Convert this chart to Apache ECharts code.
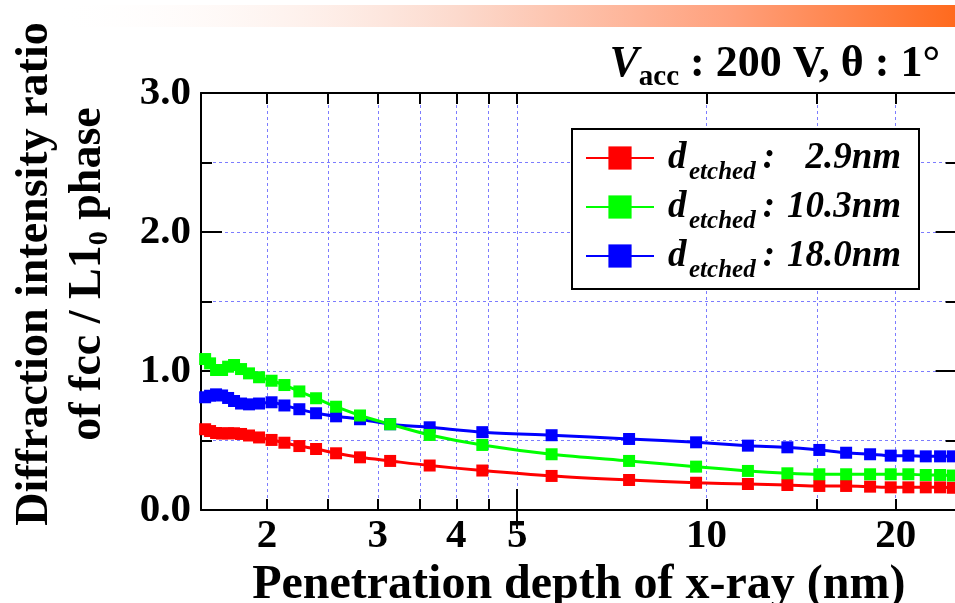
<!DOCTYPE html>
<html>
<head>
<meta charset="utf-8">
<script src="https://cdn.jsdelivr.net/npm/echarts@6/dist/echarts.min.js"></script>
<style>
html, body { margin: 0; padding: 0; background: #fff; }
#chart { width: 955px; height: 603px; }
</style>
</head>
<body>
<div id="chart"></div>
<script>
// Penetration depth of the x-ray (nm), common to the three samples
const depth = [1.594, 1.623, 1.659, 1.696, 1.734, 1.772, 1.818, 1.872, 1.942, 2.033,
  2.131, 2.251, 2.393, 2.575, 2.811, 3.139, 3.628, 4.400, 5.671, 7.532,
  9.627, 11.64, 13.45, 15.12, 16.68, 18.21, 19.64, 20.95, 22.33, 23.53, 24.65];

// Diffraction intensity ratio fcc / L1_0 for each etched depth
const ratio29 = [0.581, 0.568, 0.554, 0.550, 0.552, 0.552, 0.547, 0.536, 0.522, 0.504,
  0.484, 0.460, 0.439, 0.408, 0.379, 0.353, 0.320, 0.284, 0.245, 0.216,
  0.196, 0.187, 0.180, 0.173, 0.173, 0.168, 0.163, 0.163, 0.163, 0.163, 0.160];
const ratio103 = [1.086, 1.055, 1.007, 1.007, 1.031, 1.043, 1.014, 0.983, 0.955, 0.930,
  0.899, 0.853, 0.804, 0.743, 0.680, 0.617, 0.540, 0.468, 0.401, 0.353,
  0.312, 0.281, 0.264, 0.257, 0.257, 0.257, 0.257, 0.257, 0.252, 0.252, 0.248];
const ratio180 = [0.811, 0.822, 0.832, 0.824, 0.806, 0.784, 0.766, 0.760, 0.766, 0.775,
  0.752, 0.725, 0.696, 0.674, 0.653, 0.617, 0.595, 0.560, 0.538, 0.511,
  0.487, 0.463, 0.451, 0.432, 0.412, 0.401, 0.391, 0.391, 0.386, 0.386, 0.386];

const seriesNames = ['2.9nm', '10.3nm', '18.0nm'];
const seriesColors = ['#ff0000', '#00ff00', '#0000ff'];

// Axis ticks and labels
const xTickValues = [2, 2.5, 3, 3.5, 4, 4.5, 5, 10, 15, 20];
const xLabelValues = [2, 3, 4, 5, 10, 20];
const xLongTickValues = [5];
const xRange = [1.57, 25];
const yRange = [0, 3];

const SERIF = '"Liberation Serif", "Times New Roman", serif';
const gridLine = { show: true, lineStyle: { color: '#7c7cff', width: 1, type: [3, 3] } };
const black = { color: '#000', width: 2 };

function xAxisDef(position, opts) {
  return Object.assign({
    type: 'log', logBase: 10, position: position,
    min: xRange[0], max: xRange[1],
    axisLine: { show: true, onZero: false, lineStyle: black },
    axisTick: { show: true, inside: true, length: 11, lineStyle: black, customValues: xTickValues },
    axisLabel: { show: false },
    splitLine: { show: false }
  }, opts);
}

function yAxisDef(position, opts) {
  return Object.assign({
    type: 'value', position: position,
    min: yRange[0], max: yRange[1], interval: 1,
    axisLine: { show: true, onZero: false, lineStyle: black },
    axisTick: { show: true, inside: true, length: 21, lineStyle: black },
    minorTick: { show: true, splitNumber: 2, length: 11, lineStyle: black },
    axisLabel: { show: false },
    splitLine: { show: false },
    minorSplitLine: { show: false }
  }, opts);
}

const chart = echarts.init(document.getElementById('chart'), null, { renderer: 'canvas' });

const data = [ratio29, ratio103, ratio180];
// red first, then blue, with green drawn on top where the curves cross
const series = [0, 2, 1].map(function (k) {
  return {
    name: seriesNames[k],
    type: 'line',
    xAxisIndex: 0,
    yAxisIndex: 0,
    smooth: 0.3,
    symbol: 'rect',
    symbolSize: 12,
    color: seriesColors[k],
    lineStyle: { width: 3, color: seriesColors[k] },
    itemStyle: { color: seriesColors[k] },
    data: depth.map(function (d, i) { return [d, data[k][i]]; })
  };
});

const legendMain = { fontFamily: SERIF, fontSize: 37, fontWeight: 'bold', fontStyle: 'italic', color: '#000', lineHeight: 56 };

chart.setOption({
  animation: false,
  backgroundColor: '#fff',
  textStyle: { fontFamily: SERIF },
  grid: { left: 201, top: 93, width: 755.6, height: 417, containLabel: false, outerBoundsMode: 'none' },
  title: {
    text: '{v|V}{s|acc}{t| : 200 V, θ : 1°}',
    right: 15, top: 48, padding: 0,
    textStyle: {
      rich: {
        v: { fontFamily: SERIF, fontSize: 44, fontWeight: 'bold', fontStyle: 'italic', color: '#000', lineHeight: 33 },
        s: { fontFamily: SERIF, fontSize: 29, fontWeight: 'bold', color: '#000', lineHeight: 2,
             verticalAlign: 'top', padding: [15, 0, 0, 0] },
        t: { fontFamily: SERIF, fontSize: 44, fontWeight: 'bold', color: '#000', lineHeight: 33 }
      }
    }
  },
  legend: {
    orient: 'vertical',
    left: 572, top: 129,
    padding: [1, 18, 6, 13],
    backgroundColor: '#fff',
    borderColor: '#000', borderWidth: 2, borderRadius: 0,
    itemWidth: 68, itemHeight: 29, itemGap: -6,
    data: seriesNames,
    formatter: function (name) {
      return '{d|d}{e|etched}{c|:}{n|' + name + '}';
    },
    textStyle: {
      rich: {
        d: Object.assign({}, legendMain, { width: 21, padding: [0, 0, 0, 9] }),
        e: { fontFamily: SERIF, fontSize: 25, fontWeight: 'bold', fontStyle: 'italic', color: '#000', lineHeight: 8,
             verticalAlign: 'top', padding: [30, 0, 0, 0], width: 70 },
        c: Object.assign({}, legendMain, { width: 20, align: 'center' }),
        n: Object.assign({}, legendMain, { width: 122, align: 'right' })
      }
    }
  },
  xAxis: [
    xAxisDef('bottom', {
      name: 'Penetration depth of x-ray (nm)',
      nameLocation: 'middle', nameGap: 47,
      nameTextStyle: { fontFamily: SERIF, fontSize: 48, fontWeight: 'bold', color: '#000' },
      axisLabel: { show: true, customValues: xLabelValues, margin: 6,
        fontFamily: SERIF, fontSize: 41, fontWeight: 'bold', color: '#000' },
      splitLine: gridLine
    }),
    xAxisDef('top', {}),
    xAxisDef('bottom', { axisLine: { show: false },
      axisTick: { show: true, inside: true, length: 21, lineStyle: black, customValues: xLongTickValues } }),
    xAxisDef('top', { axisLine: { show: false },
      axisTick: { show: true, inside: true, length: 19, lineStyle: black, customValues: xLongTickValues } })
  ],
  yAxis: [
    yAxisDef('left', {
      axisLabel: { show: true, margin: 10, fontFamily: SERIF, fontSize: 41, fontWeight: 'bold', color: '#000',
        formatter: function (v) { return v.toFixed(1); } },
      splitLine: gridLine,
      minorSplitLine: gridLine
    }),
    yAxisDef('right', {})
  ],
  graphic: [
    {
      type: 'rect', z: -10, silent: true,
      shape: { x: 55, y: 5, width: 900, height: 22 },
      style: {
        fill: {
          type: 'linear', x: 0, y: 0, x2: 1, y2: 0,
          colorStops: [
            { offset: 0, color: 'rgba(255,255,255,0)' },
            { offset: 0.45, color: '#fcd9cc' },
            { offset: 0.75, color: '#ffa07c' },
            { offset: 1, color: '#ff6a1e' }
          ]
        }
      }
    },
    {
      // two-line y-axis title, rotated to read upwards
      type: 'text', x: 62, y: 274, rotation: Math.PI / 2, silent: true,
      style: {
        text: 'Diffraction intensity ratio\n{m|of fcc / L1}{s|0}{m| phase}',
        align: 'center', verticalAlign: 'middle',
        fontFamily: SERIF, fontSize: 46, fontWeight: 'bold', fill: '#000', lineHeight: 53,
        rich: {
          m: { fontFamily: SERIF, fontSize: 46, fontWeight: 'bold', fill: '#000', lineHeight: 53 },
          s: { fontFamily: SERIF, fontSize: 28, fontWeight: 'bold', fill: '#000', lineHeight: 10,
               verticalAlign: 'top', padding: [24, 0, 0, 0] }
        }
      }
    }
  ],
  series: series
});
</script>
</body>
</html>
